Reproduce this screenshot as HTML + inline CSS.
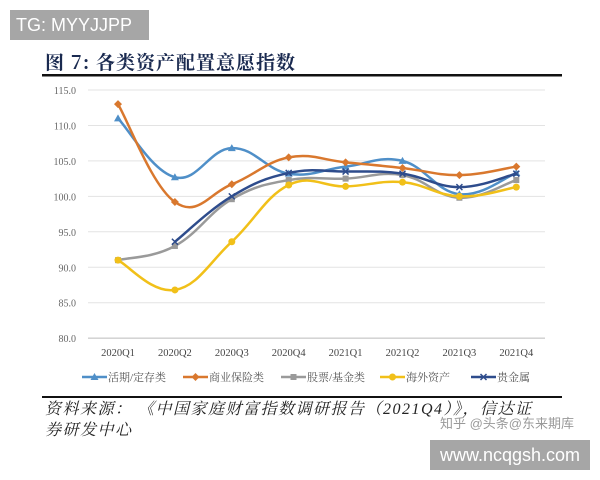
<!DOCTYPE html>
<html><head><meta charset="utf-8"><style>
body{margin:0;background:#fff;width:600px;height:480px;overflow:hidden;position:relative;font-family:"Liberation Serif","Noto Serif CJK SC",serif}
.tg{position:absolute;left:10px;top:10px;width:139px;height:30px;background:#a6a6a6;color:#fff;font:18px "Liberation Sans",sans-serif;line-height:30px;padding-left:6px;box-sizing:border-box}
.wm{position:absolute;left:430px;top:440px;width:160px;height:30px;background:#a6a6a6;color:#fff;font:18px "Liberation Sans",sans-serif;line-height:30px;text-align:center}
</style></head><body>
<div class="tg">TG: MYYJJPP</div>
<svg id="s" width="600" height="480" style="position:absolute;left:0;top:0"></svg>
<div class="wm">www.ncqgsh.com</div>
<script>
const s=document.getElementById('s');let h='';
h+='<text x="45" y="69" font-family="Noto Serif CJK SC,serif" font-weight="bold" font-size="19" letter-spacing="1" fill="#1a2a50">图 7:  各类资产配置意愿指数</text>';
h+='<rect x="42" y="74" width="520" height="2.5" fill="#111"/>';
const Y=v=>90+(115-v)*7.09, X=i=>118+i*56.9;
for(let v=80;v<=115;v+=5){h+=`<line x1="88" x2="545" y1="${Y(v)}" y2="${Y(v)}" stroke="${v==80?'#bbb':'#e3e3e3'}"/>`;h+=`<text x="76" y="${Y(v)+4}" font-size="10" text-anchor="end" fill="#666">${v.toFixed(1)}</text>`;}
const L=['2020Q1','2020Q2','2020Q3','2020Q4','2021Q1','2021Q2','2021Q3','2021Q4'];
L.forEach((l,i)=>h+=`<text x="${X(i)}" y="356" font-size="10.5" text-anchor="middle" fill="#444">${l}</text>`);
const S=[
['#4f8fc8',[111,102.7,106.8,103.2,104.2,105,100.3,103.3],'tri','活期/定存类'],
['#d9782e',[113,99.2,101.7,105.5,104.8,104,103,104.2],'dia','商业保险类'],
['#9a9a9a',[91,93,99.6,102.3,102.5,103,99.8,102.3],'sq','股票/基金类'],
['#f1c019',[91,86.8,93.6,101.6,101.4,102,100,101.3],'cir','海外资产'],
['#2e4c8c',[null,93.6,100,103.3,103.5,103.2,101.3,103.2],'x','贵金属']];
function path(pts){let d=`M${pts[0][0]},${pts[0][1]}`;for(let i=0;i<pts.length-1;i++){const p0=pts[i-1]||pts[i],p1=pts[i],p2=pts[i+1],p3=pts[i+2]||p2;const t=0.2;d+=`C${p1[0]+(p2[0]-p0[0])*t},${p1[1]+(p2[1]-p0[1])*t} ${p2[0]-(p3[0]-p1[0])*t},${p2[1]-(p3[1]-p1[1])*t} ${p2[0]},${p2[1]}`;}return d;}
function mk(t,x,y,c){if(t=='tri')return `<path d="M${x},${y-4}L${x+4},${y+3}L${x-4},${y+3}Z" fill="${c}"/>`;if(t=='dia')return `<path d="M${x},${y-4}L${x+4},${y}L${x},${y+4}L${x-4},${y}Z" fill="${c}"/>`;if(t=='sq')return `<rect x="${x-3}" y="${y-3}" width="6" height="6" fill="${c}"/>`;if(t=='cir')return `<circle cx="${x}" cy="${y}" r="3.5" fill="${c}"/>`;return `<path d="M${x-3},${y-3}L${x+3},${y+3}M${x+3},${y-3}L${x-3},${y+3}" stroke="${c}" stroke-width="1.5"/>`;}
S.forEach(([c,d,t])=>{const pts=[];d.forEach((v,i)=>{if(v!=null)pts.push([X(i),Y(v)])});h+=`<path d="${path(pts)}" fill="none" stroke="${c}" stroke-width="2.5"/>`;pts.forEach(p=>h+=mk(t,p[0],p[1],c));});
S.forEach(([c,d,t,n],i)=>{const x=[82,183,281,380,471][i];h+=`<line x1="${x}" x2="${x+25}" y1="377" y2="377" stroke="${c}" stroke-width="2.5"/>`+mk(t,x+12.5,377,c)+`<text x="${x+26}" y="381" font-size="11" fill="#555">${n}</text>`;});
h+='<rect x="42" y="396" width="520" height="2" fill="#111"/>';
h+='<text x="45" y="414" font-size="16" font-style="italic" letter-spacing="1.5" fill="#222">资料来源： 《中国家庭财富指数调研报告（2021Q4）》，信达证</text>';
h+='<text x="45" y="435" font-size="16" font-style="italic" letter-spacing="1.5" fill="#222">券研发中心</text>';
h+='<text x="440" y="428" font-size="13" fill="#999" font-family="Liberation Sans,Noto Sans CJK SC,sans-serif">知乎 @头条@东来期库</text>';
s.innerHTML=h;
</script>
</body></html>
